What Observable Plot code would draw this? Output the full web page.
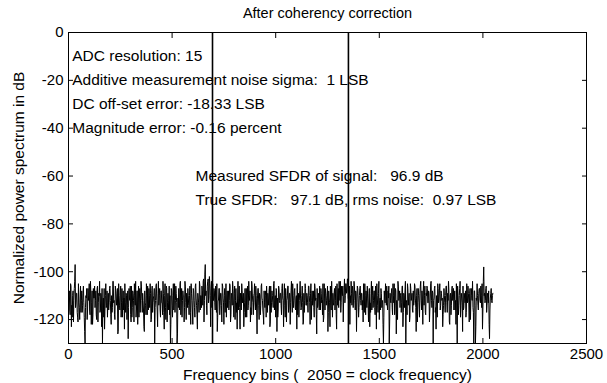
<!DOCTYPE html>
<html>
<head>
<meta charset="utf-8">
<script src="https://cdn.jsdelivr.net/npm/d3@7"></script>
<script src="https://cdn.jsdelivr.net/npm/@observablehq/plot@0.6"></script>
<style>
  html, body { margin: 0; padding: 0; background: #fff; }
  svg text { white-space: pre; }
</style>
</head>
<body>
<div id="chart"></div>
<script>
const titleText = "After coherency correction";
const xLabelText = "Frequency bins (  2050 = clock frequency)";
const yLabelText = "Normalized power spectrum in dB";
const xTicks = [0, 500, 1000, 1500, 2000, 2500];
const yTicks = [-120, -100, -80, -60, -40, -20, 0];

// noise floor: samples at bins 0,4,8,... (A) and bins 2,6,10,... (B)
const binStep = 4;
const noiseDbA = [
-112,-108,-118,-106,-114,-110,-121,-107,-97,-113,-109,-119,-105,-115,-111,-117,
-108,-114,-106,-119,-130,-110,-107,-116,-112,-105,-118,-109,-113,-122,-107,-111,
-115,-108,-120,-106,-113,-110,-117,-109,-123,-130,-111,-107,-116,-105,-114,-119,
-109,-113,-106,-118,-110,-115,-104,-112,-120,-108,-114,-107,-125,-110,-116,-106,
-113,-119,-108,-111,-105,-117,-110,-114,-128,-107,-112,-118,-106,-115,-109,-121,
-110,-104,-116,-108,-113,-119,-107,-111,-106,-117,-112,-123,-108,-114,-105,-118,
-111,-107,-115,-109,-120,-106,-113,-110,-130,-112,-105,-116,-109,-114,-107,-119,
-108,-113,-104,-117,-110,-115,-106,-121,-109,-112,-118,-130,-107,-114,-110,-116,
-105,-112,-109,-130,-111,-107,-116,-104,-113,-119,-108,-110,-115,-106,-120,-111,
-107,-114,-110,-117,-105,-112,-122,-108,-115,-106,-111,-118,-109,-113,-104,-116,
-110,-106,-114,-103,-112,-97,-108,-118,-104,-113,-102,-110,-107,-115,-105,-112,
-108,-116,-110,-105,-119,-112,-107,-114,-109,-121,-106,-113,-110,-117,-105,-111,
-115,-108,-112,-106,-118,-110,-104,-114,-109,-120,-107,-113,-111,-116,-106,-124,
-110,-105,-113,-109,-117,-107,-112,-119,-106,-114,-110,-108,-115,-104,-111,-118,
-109,-113,-106,-116,-111,-107,-120,-110,-114,-105,-112,-118,-108,-115,-110,-106,
-117,-111,-108,-123,-106,-113,-110,-115,-104,-112,-119,-108,-111,-116,-107,-113,
-109,-118,-105,-112,-110,-114,-107,-121,-111,-106,-115,-109,-113,-104,-117,-110,
-112,-107,-116,-110,-105,-113,-119,-108,-111,-115,-106,-122,-109,-112,-107,-114,
-110,-117,-106,-113,-109,-120,-108,-111,-115,-105,-112,-118,-107,-114,-110,-106,
-116,-109,-112,-105,-119,-111,-107,-114,-110,-125,-108,-113,-106,-116,-111,-109,
-114,-107,-112,-118,-105,-110,-115,-108,-104,-113,-109,-106,-111,-103,-110,-105,
-108,-103,-112,-106,-110,-104,-114,-108,-111,-106,-116,-109,-113,-107,-119,-110,
-106,-114,-109,-112,-105,-117,-110,-108,-115,-111,-121,-107,-113,-109,-116,-106,
-112,-108,-118,-110,-105,-114,-109,-120,-111,-107,-115,-112,-130,-108,-113,-110,
-106,-116,-111,-130,-109,-113,-107,-118,-110,-105,-114,-108,-112,-120,-106,-111,
-115,-109,-113,-106,-117,-110,-108,-130,-112,-105,-114,-109,-119,-107,-111,-116,
-108,-112,-106,-115,-110,-121,-107,-113,-109,-104,-116,-111,-108,-114,-106,-118,
-110,-107,-113,-109,-116,-105,-112,-108,-130,-111,-106,-115,-110,-119,-107,-112,
-105,-114,-109,-111,-118,-107,-113,-110,-106,-117,-112,-108,-122,-109,-114,-106,
-111,-116,-108,-112,-105,-130,-110,-114,-107,-119,-109,-113,-106,-115,-111,-108,
-117,-110,-106,-113,-109,-120,-107,-112,-115,-130,-108,-130,-111,-105,-114,-109,
-107,-113,-110,-105,-116,-98,-109,-112,-106,-114,-110,-108,-128,-111,-107,-113,
-109
];
const noiseDbB = [
-110,-116,-105,-123,-119,-108,-112,-104,-115,-109,-117,-121,-113,-120,-106,-112,
-117,-109,-113,-125,-115,-111,-120,-107,-110,-116,-104,-122,-108,-118,-111,-106,
-112,-118,-107,-121,-109,-104,-116,-111,-107,-113,-119,-124,-110,-115,-108,-113,
-116,-107,-112,-122,-117,-104,-113,-118,-106,-111,-109,-126,-105,-114,-108,-119,
-107,-112,-116,-124,-113,-109,-120,-108,-115,-111,-106,-121,-119,-108,-112,-105,
-114,-119,-108,-122,-106,-111,-117,-104,-112,-109,-116,-125,-113,-118,-110,-106,
-116,-110,-105,-121,-108,-117,-111,-107,-115,-106,-112,-123,-104,-110,-116,-108,
-113,-118,-109,-124,-105,-120,-107,-113,-116,-106,-110,-122,-108,-119,-105,-112,
-117,-106,-113,-126,-115,-111,-105,-118,-107,-112,-110,-121,-104,-113,-109,-115,
-110,-118,-106,-122,-109,-116,-107,-112,-119,-105,-114,-124,-111,-117,-106,-110,
-115,-108,-104,-121,-101,-110,-114,-106,-103,-111,-105,-123,-104,-109,-112,-107,
-113,-106,-117,-125,-112,-107,-118,-109,-114,-105,-111,-122,-107,-113,-119,-108,
-110,-116,-105,-121,-109,-114,-107,-119,-106,-112,-117,-124,-104,-111,-115,-109,
-116,-108,-111,-123,-113,-119,-107,-110,-116,-104,-112,-121,-118,-106,-113,-110,
-105,-116,-110,-126,-107,-114,-109,-118,-106,-111,-116,-122,-113,-108,-119,-111,
-109,-114,-106,-121,-117,-108,-113,-105,-116,-110,-107,-125,-119,-106,-112,-109,
-114,-107,-111,-123,-105,-119,-110,-112,-106,-117,-109,-122,-108,-111,-105,-115,
-108,-115,-111,-124,-118,-109,-112,-104,-116,-110,-113,-121,-117,-105,-114,-109,
-113,-106,-110,-122,-105,-112,-114,-108,-119,-107,-111,-126,-115,-109,-116,-112,
-107,-113,-118,-121,-105,-116,-109,-112,-106,-117,-111,-123,-114,-104,-119,-113,
-109,-116,-106,-124,-114,-107,-104,-112,-117,-106,-110,-121,-108,-113,-105,-109,
-103,-111,-107,-122,-113,-109,-106,-115,-104,-112,-108,-125,-106,-111,-115,-107,
-112,-109,-116,-121,-113,-105,-118,-111,-106,-114,-109,-123,-117,-104,-110,-115,
-108,-115,-106,-124,-110,-117,-104,-112,-116,-109,-113,-122,-119,-111,-105,-114,
-113,-108,-106,-121,-112,-109,-115,-105,-113,-118,-107,-126,-116,-104,-112,-108,
-110,-117,-106,-123,-109,-115,-104,-113,-118,-107,-111,-121,-105,-112,-109,-117,
-114,-105,-111,-125,-107,-113,-110,-119,-106,-112,-108,-122,-104,-110,-117,-109,
-106,-113,-108,-121,-111,-104,-115,-109,-112,-107,-117,-124,-114,-105,-113,-108,
-116,-108,-112,-123,-114,-110,-117,-106,-113,-109,-104,-121,-110,-118,-107,-112,
-107,-112,-116,-122,-113,-106,-118,-110,-104,-114,-111,-125,-116,-109,-113,-119,
-105,-113,-109,-121,-107,-112,-110,-104,-117,-108,-114,-123,-112,-110,-116,-107,
-112,-106,-115,-124,-104,-110,-113,-107,-117,-109,-113,-122,-116,-109,-112,-110
];

// signal / spur lines
const sigBins = [695, 1351];
const sigDb = [0, 0];

// annotations
const annotLabels = [
  "ADC resolution: 15",
  "Additive measurement noise sigma:  1 LSB",
  "DC off-set error: -18.33 LSB",
  "Magnitude error: -0.16 percent",
  "Measured SFDR of signal:   96.9 dB",
  "True SFDR:   97.1 dB, rms noise:  0.97 LSB"
];
const annotX = [18, 18, 18, 18, 613, 613];
const annotY = [-10, -20, -30, -40, -60, -70];

const noise = [];
noiseDbA.forEach((v, i) => {
  noise.push({bin: i * binStep, db: v});
  if (i < noiseDbB.length) noise.push({bin: i * binStep + binStep / 2, db: noiseDbB[i]});
});
const signals = sigBins.map((b, i) => ({bin: b, db: sigDb[i]}));
const annots = annotLabels.map((t, i) => ({text: t, x: annotX[i], y: annotY[i]}));

const font = "'Liberation Sans', Arial, Helvetica, sans-serif";
const fs = 15.5;

const chart = Plot.plot({
  width: 607,
  height: 383,
  marginLeft: 68,
  marginRight: 21,
  marginTop: 32,
  marginBottom: 40,
  style: {fontFamily: font, fontSize: fs + "px", background: "#fff", color: "#000"},
  x: {domain: [0, 2500], label: null},
  y: {domain: [-130, 0], label: null},
  marks: [
    Plot.line(noise, {x: "bin", y: "db", stroke: "#000", strokeWidth: 1, clip: true}),
    Plot.ruleX(signals, {x: "bin", y1: -130, y2: "db", stroke: "#000", strokeWidth: 1.6}),
    Plot.text(annots, {x: "x", y: "y", text: "text", textAnchor: "start", fill: "#000", fontSize: fs}),
    Plot.frame({stroke: "#000", strokeWidth: 1}),
    // tick labels
    Plot.axisX({anchor: "bottom", ticks: xTicks, tickSize: 0, tickPadding: 5, tickFormat: d => String(d), label: null, fontSize: 15}),
    Plot.axisY({anchor: "left", ticks: yTicks, tickSize: 0, tickPadding: 5, tickFormat: d => String(d), label: null, fontSize: 15}),
    // inward ticks
    Plot.axisX({anchor: "bottom", ticks: xTicks, tickSize: 5, dy: -5, tickFormat: () => "", label: null}),
    Plot.axisX({anchor: "top", ticks: xTicks, tickSize: 5, dy: 5, tickFormat: () => "", label: null}),
    Plot.axisY({anchor: "left", ticks: yTicks, tickSize: 5, dx: 5, tickFormat: () => "", label: null}),
    Plot.axisY({anchor: "right", ticks: yTicks, tickSize: 5, dx: -5, tickFormat: () => "", label: null}),
    // titles
    Plot.text([titleText], {frameAnchor: "top", textAnchor: "middle", lineAnchor: "middle", dy: -19, fontSize: 14.5, fill: "#000"}),
    Plot.text([xLabelText], {frameAnchor: "bottom", textAnchor: "middle", lineAnchor: "middle", dy: 32, fontSize: fs, fill: "#000"}),
    Plot.text([yLabelText], {frameAnchor: "left", textAnchor: "middle", lineAnchor: "middle", dx: -49, rotate: -90, fontSize: fs, fill: "#000"})
  ]
});

document.getElementById("chart").appendChild(chart);
</script>
</body>
</html>
